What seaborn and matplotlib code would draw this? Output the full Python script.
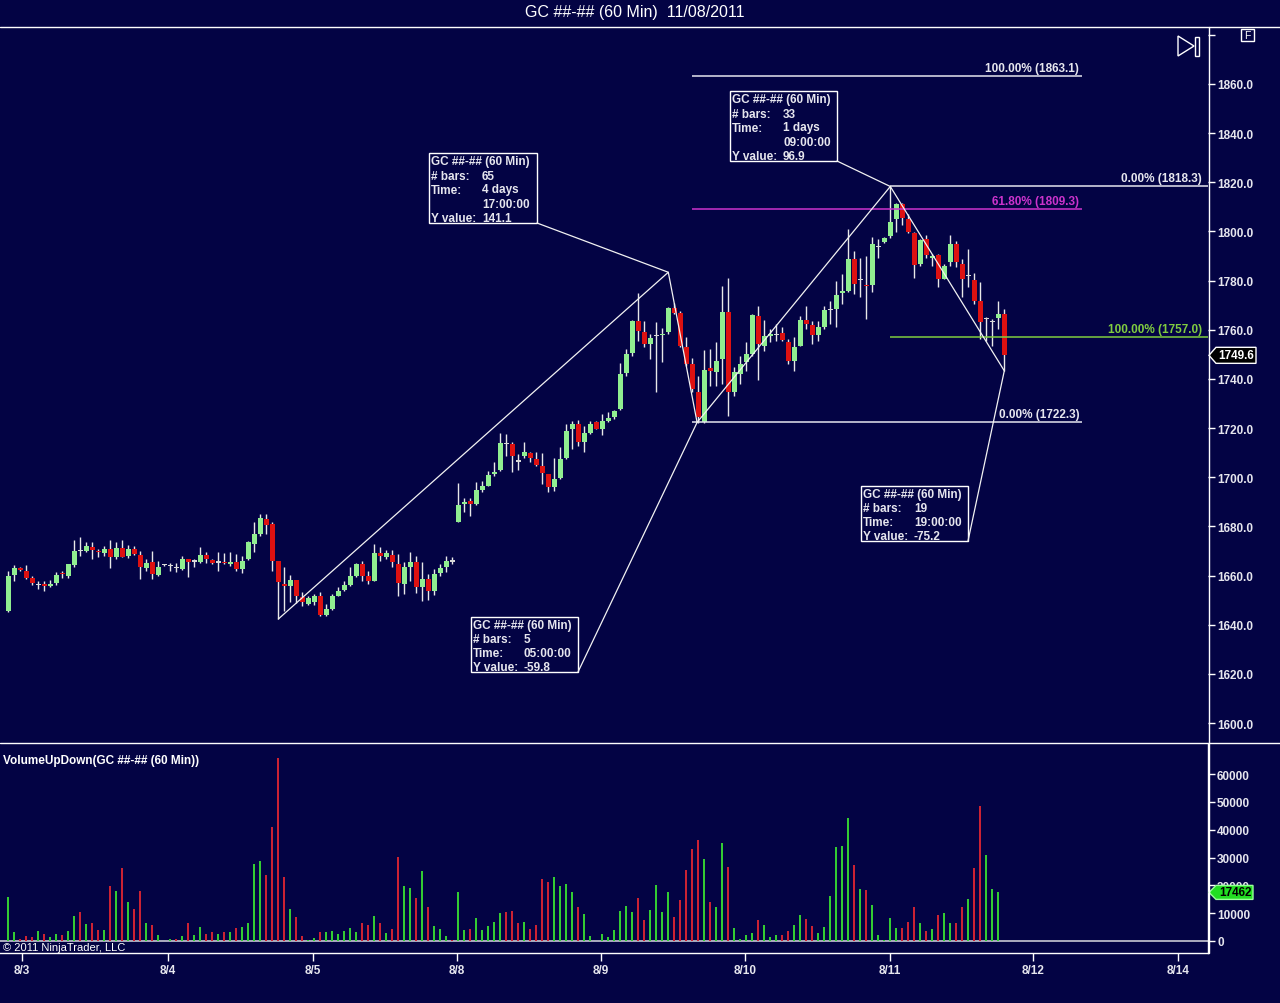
import matplotlib
matplotlib.use("Agg")
import matplotlib.pyplot as plt
from matplotlib.patches import Rectangle, Polygon
import numpy as np
import pandas as pd
import seaborn as sns

# ---- hourly GC bars ----
opens = [
    1645.7, 1660.2, 1663.0, 1662.0, 1659.0, 1656.4, 1656.5, 1655.6, 1656.9, 1661.0,
    1659.9, 1664.4, 1670.3, 1670.1, 1671.8, 1670.1, 1669.1, 1670.8, 1667.4, 1671.4,
    1667.8, 1670.8, 1668.5, 1663.0, 1665.6, 1660.2, 1664.3, 1664.0, 1663.6, 1662.6,
    1666.7, 1665.9, 1665.6, 1668.3, 1666.3, 1665.5, 1665.6, 1664.9, 1665.6, 1662.6,
    1666.7, 1672.8, 1676.9, 1683.2, 1680.9, 1666.0, 1656.5, 1655.6, 1658.1, 1651.1,
    1648.4, 1649.4, 1651.8, 1644.0, 1646.4, 1651.8, 1654.3, 1656.2, 1659.7, 1664.7,
    1660.0, 1657.9, 1669.2, 1667.4, 1668.4, 1664.7, 1656.6, 1663.4, 1665.4, 1655.2,
    1658.6, 1653.9, 1661.0, 1663.4, 1666.1, 1681.9, 1689.1, 1690.4, 1689.1, 1694.9,
    1696.5, 1701.3, 1703.0, 1714.0, 1713.5, 1706.8, 1708.5, 1709.8, 1707.4, 1704.4,
    1701.3, 1695.9, 1699.5, 1707.8, 1719.6, 1721.6, 1714.2, 1718.2, 1722.3, 1719.8,
    1723.0, 1724.7, 1727.7, 1742.6, 1750.5, 1763.6, 1759.2, 1754.2, 1757.5, 1757.8,
    1758.9, 1768.7, 1766.8, 1752.8, 1746.0, 1734.5, 1722.3, 1744.3, 1743.0, 1748.1,
    1767.4, 1734.8, 1742.0, 1747.0, 1750.1, 1765.7, 1753.3, 1757.3, 1758.0, 1758.7,
    1755.2, 1747.4, 1753.5, 1764.1, 1761.9, 1757.9, 1761.0, 1768.3, 1768.6, 1774.8,
    1775.9, 1788.8, 1780.4, 1778.2, 1778.2, 1794.0, 1795.8, 1798.0, 1805.0, 1811.1,
    1805.0, 1799.3, 1786.7, 1796.9, 1789.0, 1790.4, 1780.6, 1787.4, 1794.9, 1786.7,
    1782.0, 1780.3, 1771.8, 1764.6, 1763.5, 1764.6, 1766.4]
highs = [
    1661.9, 1664.2, 1663.4, 1664.2, 1659.9, 1657.9, 1657.9, 1658.1, 1661.5, 1662.0,
    1664.7, 1674.4, 1675.5, 1673.5, 1673.7, 1671.0, 1672.1, 1674.4, 1673.7, 1674.4,
    1672.4, 1672.1, 1670.1, 1666.7, 1670.1, 1666.0, 1664.8, 1665.3, 1665.0, 1668.0,
    1666.7, 1666.7, 1671.7, 1669.4, 1666.7, 1669.7, 1669.0, 1669.4, 1668.7, 1668.0,
    1674.1, 1681.6, 1685.0, 1685.0, 1681.9, 1666.0, 1663.3, 1660.2, 1658.1, 1653.4,
    1651.8, 1652.5, 1653.4, 1648.4, 1652.5, 1655.2, 1657.9, 1663.4, 1665.0, 1666.1,
    1662.0, 1672.8, 1671.5, 1670.4, 1670.4, 1668.8, 1665.4, 1669.5, 1668.1, 1665.4,
    1660.6, 1662.7, 1664.7, 1668.1, 1667.4, 1697.7, 1691.4, 1691.4, 1698.1, 1698.6,
    1702.6, 1706.0, 1717.9, 1717.5, 1714.4, 1709.4, 1714.4, 1710.1, 1710.4, 1709.8,
    1701.3, 1708.0, 1712.1, 1721.6, 1723.0, 1723.4, 1720.9, 1723.0, 1723.0, 1725.7,
    1726.4, 1727.4, 1746.4, 1752.1, 1764.1, 1774.9, 1763.6, 1758.2, 1763.0, 1760.9,
    1769.1, 1771.0, 1767.7, 1756.9, 1748.7, 1741.3, 1751.9, 1752.2, 1754.9, 1778.0,
    1781.0, 1744.7, 1749.5, 1754.9, 1766.4, 1769.8, 1764.1, 1760.3, 1762.4, 1761.0,
    1756.3, 1756.9, 1765.5, 1769.8, 1763.7, 1763.7, 1769.5, 1771.8, 1780.0, 1782.6,
    1801.0, 1792.1, 1789.1, 1790.1, 1797.6, 1796.9, 1797.6, 1818.6, 1811.5, 1811.5,
    1807.1, 1799.6, 1796.9, 1798.5, 1790.8, 1790.8, 1786.7, 1798.5, 1796.2, 1788.8,
    1792.9, 1783.3, 1779.3, 1765.0, 1764.3, 1771.8, 1768.4]
lows = [
    1645.0, 1657.9, 1661.9, 1658.6, 1656.1, 1654.5, 1653.8, 1655.2, 1656.1, 1659.2,
    1659.2, 1663.3, 1668.0, 1669.4, 1666.7, 1667.4, 1668.0, 1662.9, 1666.7, 1667.4,
    1667.0, 1668.3, 1658.6, 1661.9, 1658.6, 1659.9, 1664.0, 1662.0, 1661.3, 1662.4,
    1659.6, 1663.3, 1665.3, 1665.3, 1664.7, 1662.0, 1664.5, 1664.0, 1662.0, 1661.0,
    1666.4, 1669.4, 1676.2, 1676.9, 1661.9, 1642.3, 1645.7, 1649.1, 1649.0, 1647.8,
    1648.0, 1648.0, 1643.7, 1643.7, 1646.1, 1651.6, 1653.9, 1655.9, 1659.3, 1657.9,
    1656.6, 1657.7, 1666.1, 1666.7, 1663.4, 1651.6, 1652.5, 1657.9, 1652.9, 1649.8,
    1650.2, 1652.1, 1659.7, 1661.3, 1664.7, 1681.7, 1685.7, 1684.3, 1688.7, 1693.8,
    1696.3, 1700.3, 1702.6, 1708.7, 1702.0, 1703.0, 1708.0, 1706.0, 1704.4, 1697.2,
    1694.1, 1694.5, 1699.2, 1707.4, 1711.4, 1712.8, 1710.4, 1717.5, 1719.6, 1717.1,
    1722.6, 1723.6, 1727.3, 1741.0, 1749.4, 1755.5, 1752.8, 1748.1, 1734.5, 1746.7,
    1758.2, 1766.4, 1752.8, 1745.4, 1734.5, 1722.1, 1722.1, 1737.3, 1737.3, 1738.0,
    1725.1, 1733.2, 1737.9, 1743.4, 1749.5, 1739.7, 1751.5, 1754.9, 1755.6, 1755.6,
    1746.1, 1743.4, 1753.3, 1760.3, 1754.2, 1755.6, 1760.3, 1762.4, 1761.0, 1770.4,
    1775.5, 1774.5, 1773.2, 1764.3, 1775.5, 1789.1, 1795.5, 1797.2, 1799.9, 1802.6,
    1799.3, 1780.9, 1785.8, 1789.0, 1785.8, 1777.2, 1780.6, 1785.8, 1785.4, 1773.2,
    1777.2, 1770.4, 1756.2, 1755.5, 1753.5, 1760.3, 1743.3]
closes = [
    1659.9, 1663.0, 1662.1, 1659.2, 1656.9, 1656.6, 1655.6, 1656.5, 1660.2, 1660.5,
    1664.7, 1670.1, 1670.0, 1672.1, 1670.5, 1669.4, 1670.8, 1667.4, 1671.4, 1667.6,
    1670.8, 1668.7, 1663.3, 1665.3, 1660.6, 1663.3, 1664.4, 1664.1, 1663.4, 1666.7,
    1665.6, 1666.0, 1668.3, 1666.7, 1665.3, 1665.6, 1665.0, 1665.7, 1662.6, 1666.0,
    1673.5, 1676.9, 1683.6, 1680.5, 1666.0, 1657.2, 1655.8, 1658.1, 1651.8, 1649.1,
    1650.9, 1651.8, 1644.0, 1646.4, 1651.8, 1653.9, 1656.1, 1660.0, 1664.7, 1660.0,
    1657.9, 1669.2, 1667.8, 1669.1, 1665.4, 1657.0, 1663.4, 1665.4, 1655.2, 1658.6,
    1653.9, 1660.6, 1663.0, 1666.1, 1665.9, 1688.7, 1690.0, 1689.1, 1694.9, 1696.3,
    1700.9, 1702.2, 1713.9, 1713.8, 1708.5, 1706.6, 1710.1, 1707.8, 1705.1, 1701.7,
    1695.9, 1699.2, 1707.6, 1718.9, 1721.6, 1714.2, 1718.2, 1721.6, 1719.8, 1723.0,
    1724.3, 1727.0, 1742.2, 1750.1, 1763.6, 1759.6, 1754.2, 1756.5, 1757.7, 1758.4,
    1768.7, 1767.0, 1753.5, 1746.0, 1735.9, 1724.5, 1743.6, 1743.4, 1747.4, 1767.1,
    1734.8, 1743.0, 1746.1, 1750.1, 1766.0, 1754.2, 1757.3, 1758.3, 1758.2, 1756.0,
    1747.4, 1752.9, 1764.1, 1762.4, 1757.9, 1761.0, 1768.2, 1768.5, 1774.2, 1775.6,
    1788.8, 1778.6, 1780.6, 1777.7, 1794.9, 1794.1, 1797.2, 1803.9, 1811.1, 1805.3,
    1799.9, 1786.3, 1796.6, 1790.4, 1790.1, 1780.6, 1786.0, 1794.9, 1787.4, 1780.6,
    1782.2, 1771.8, 1763.3, 1764.8, 1763.9, 1766.4, 1749.6]
volumes = [
    15900, 3350, 720, 1680, 1300, 3600, 2500, 1560, 2500, 2150,
    3700, 9100, 10500, 6100, 6500, 3950, 4100, 19900, 18100, 26200,
    14100, 11500, 18100, 6500, 5750, 2150, 0, 700, 700, 1700,
    6500, 2150, 5150, 2500, 3100, 2500, 3350, 3350, 4700, 5150,
    6350, 27700, 28750, 23700, 40850, 65650, 22900, 11500, 8750, 1700,
    500, 1100, 3350, 3350, 3600, 2500, 3700, 4700, 3350, 6350,
    5750, 9100, 6350, 2900, 4300, 30300, 19900, 19050, 15450, 25300,
    12350, 5500, 4300, 1900, 360, 17500, 4100, 4300, 8300, 4100,
    5500, 6950, 10000, 10300, 10650, 6470, 6700, 4300, 5750, 22300,
    21100, 23000, 19770, 20500, 17500, 12100, 9700, 1700, 120, 2500,
    1300, 3950, 10800, 12600, 10400, 15300, 7550, 11100, 20100, 10400,
    17500, 8750, 14700, 25500, 33100, 36300, 29500, 13900, 12300, 35100,
    26700, 4700, 700, 2150, 2900, 7550, 5750, 1300, 2150, 2150,
    3600, 5750, 9450, 7900, 5400, 3000, 5000, 16300, 33900, 34300,
    44300, 27300, 18700, 18300, 12900, 2150, 240, 8270, 4550, 4700,
    6800, 12100, 6350, 3700, 4300, 9450, 10060, 6350, 6470, 12100,
    15100, 26200, 48400, 30900, 18700, 17462]

date_labels = ["8/3", "8/4", "8/5", "8/8", "8/9", "8/10", "8/11", "8/12", "8/14"]
date_bars = [2.3, 26.6, 50.8, 74.8, 98.8, 122.8, 147.0, 170.8, 194.9]

# zigzag measure drawing (bar index, price)
measure_bars = [45, 110, 114.8, 147, 166]
measure_prices = [1642.3, 1783.4, 1722.3, 1818.3, 1743.3]
measure_boxes = [
    [("GC ##-## (60 Min)", ""), ("# bars:", "65"), ("Time:", "4 days"), ("", "17:00:00"), ("Y value:", "141.1")],
    [("GC ##-## (60 Min)", ""), ("# bars:", "5"), ("Time:", "05:00:00"), ("Y value:", "-59.8")],
    [("GC ##-## (60 Min)", ""), ("# bars:", "33"), ("Time:", "1 days"), ("", "09:00:00"), ("Y value:", "96.9")],
    [("GC ##-## (60 Min)", ""), ("# bars:", "19"), ("Time:", "19:00:00"), ("Y value:", "-75.2")],
]

# fibonacci tools
fib1_levels = [0.0, 61.8, 100.0]
fib1_prices = [1722.3, 1809.3, 1863.1]
fib2_levels = [0.0, 100.0]
fib2_prices = [1818.3, 1757.0]

# ---- style ----
BG = "#030344"
FG = "#e6e6ee"
WICK = "#e8e8e8"
C_UP, C_DN, C_DOJI = "#90ee90", "#dd1111", "#d8d8d8"
V_UP, V_DN = "#33cc33", "#cc2233"
MAGENTA = "#cc33cc"
LIME = "#80cc40"

sns.set_style("dark", {"axes.facecolor": BG, "figure.facecolor": BG})
plt.rcParams["font.family"] = ["Liberation Sans", "DejaVu Sans"]

W, H = 1280, 1004
fig = plt.figure(figsize=(W / 100, H / 100), dpi=100, facecolor=BG)
ax = fig.add_axes([0, 1 - 742 / H, 1208 / W, (742 - 28) / H])
axv = fig.add_axes([0, 1 - 954 / H, 1208 / W, (954 - 745) / H])

o = np.array(opens); h = np.array(highs); l = np.array(lows); c = np.array(closes)
idx = np.arange(len(o))
xlim = (-8.3 / 6, (1208 - 8.3) / 6)

# ---- candles ----
diff = c - o
body_col = np.where(diff >= 0.5, C_UP, np.where(diff <= -0.5, C_DN, C_DOJI))
body_h = np.maximum(np.abs(diff), 0.45)
body_b = np.where(np.abs(diff) < 0.45, np.minimum(o, c) - 0.2, np.minimum(o, c))
ax.vlines(idx, l, h, color=WICK, lw=1.0, zorder=2)
ax.bar(idx, body_h, bottom=body_b, width=0.78, color=body_col, lw=0, zorder=3)

ax.set_xlim(*xlim)
ax.set_ylim(1592.68, 1883.19)
ax.set_facecolor(BG)
ax.grid(False)

# fib lines + labels
fib1_cols = [FG, MAGENTA, FG]
ax.hlines(fib1_prices, 114, 179, colors=fib1_cols, lw=1.1, zorder=4)
for lv, p, col in zip(fib1_levels, fib1_prices, fib1_cols):
    ax.annotate(f"{lv:.2f}% ({p:.1f})", (179, p), xytext=(-3, 2), textcoords="offset pixels",
                ha="right", va="bottom", color=col, fontsize=8.5, fontweight="bold", zorder=5)
fib2_cols = [FG, LIME]
ax.hlines(fib2_prices, 147, xlim[1], colors=fib2_cols, lw=1.1, zorder=4)
for lv, p, col in zip(fib2_levels, fib2_prices, fib2_cols):
    ax.annotate(f"{lv:.2f}% ({p:.1f})", (xlim[1], p), xytext=(-6, 2), textcoords="offset pixels",
                ha="right", va="bottom", color=col, fontsize=8.5, fontweight="bold", zorder=5)

# measure zigzag
ax.plot(measure_bars, measure_prices, color="#f2f2f2", lw=0.9, zorder=4)

ax.yaxis.tick_right()
yt = np.arange(1600, 1881, 20)
ax.set_yticks(yt)
ax.set_yticklabels([f"{v:.1f}" if v < 1880 else "" for v in yt], fontweight="bold")
ax.tick_params(axis="y", which="both", left=False, right=True, labelleft=False, labelright=True,
               length=5, width=1, color="white", labelcolor=FG, labelsize=8.5, pad=1.5, direction="out")
ax.set_xticks([])
for s in ax.spines.values():
    s.set_visible(False)

# ---- volume (seaborn) ----
nv = len(volumes)
vol_df = pd.DataFrame({
    "bar": np.arange(nv),
    "volume": volumes,
    "dir": np.where(c[:nv] >= o[:nv], "up", "down"),
})
sns.barplot(data=vol_df, x="bar", y="volume", hue="dir", palette={"up": V_UP, "down": V_DN},
            native_scale=True, dodge=False, width=0.38, linewidth=0, saturation=1,
            errorbar=None, legend=False, ax=axv, zorder=3)
axv.axhline(0, color="#c8c8d4", lw=1.2, zorder=2)
axv.set_xlim(*xlim)
axv.set_ylim(-4312, 70786)
axv.set_facecolor(BG)
axv.grid(False)
axv.set_xlabel("")
axv.set_ylabel("")
axv.yaxis.tick_right()
vt = np.arange(0, 60001, 10000)
axv.set_yticks(vt)
axv.set_yticklabels([f"{v}" for v in vt], fontweight="bold")
axv.tick_params(axis="y", which="both", left=False, right=True, labelleft=False, labelright=True,
                length=5, width=1, color="white", labelcolor=FG, labelsize=8.5, pad=1.5, direction="out")
axv.set_xticks(date_bars)
axv.set_xticklabels(date_labels, fontweight="bold")
axv.tick_params(axis="x", bottom=True, length=6, width=1, color="white", labelcolor=FG,
                labelsize=8.5, pad=2, direction="out")
for k, s in axv.spines.items():
    s.set_visible(k in ("bottom", "right"))
    s.set_color("white")
    s.set_linewidth(1)

# ---- overlay in pixel space for chart chrome ----
ov = fig.add_axes([0, 0, 1, 1], zorder=10)
ov.set_xlim(0, W)
ov.set_ylim(H, 0)
ov.axis("off")
ov.patch.set_alpha(0)


def to_px(a, x, y):
    dx, dy = a.transData.transform((x, y))
    return dx, H - dy


ov.text(635, 13, "GC ##-## (60 Min)  11/08/2011", ha="center", va="center", color="white", fontsize=11.5)
ov.plot([0, W], [27.5, 27.5], color="white", lw=1)
ov.plot([0, W], [743.5, 743.5], color="white", lw=1)
ov.plot([1208.5, 1208.5], [28, 954], color="white", lw=1)

# measure info boxes
box_rects = [(429, 154, 537, 224), (471, 618, 578, 673), (730, 92, 837, 162), (861, 487, 968, 542)]
for k, ((x0, y0, x1, y1), lines) in enumerate(zip(box_rects, measure_boxes)):
    tx, ty = to_px(ax, measure_bars[k + 1], measure_prices[k + 1])
    ov.plot([x1, tx], [y1, ty], color="#f2f2f2", lw=0.9)
    ov.add_patch(Rectangle((x0, y0), x1 - x0, y1 - y0, fc=BG, ec="white", lw=1))
    for j, (lab, val) in enumerate(lines):
        yy = y0 + 8.5 + 14 * j
        ov.text(x0 + 2, yy, lab, ha="left", va="center", color=FG, fontsize=8.5, fontweight="bold")
        ov.text(x0 + 53, yy, val, ha="left", va="center", color=FG, fontsize=8.5, fontweight="bold")

ov.text(3, 761, "VolumeUpDown(GC ##-## (60 Min))", ha="left", va="center", color="white",
        fontsize=8.5, fontweight="bold")
ov.text(3, 948, "\u00a9 2011 NinjaTrader, LLC", ha="left", va="center", color="white", fontsize=8)

# last-value tags
_, py = to_px(ax, 0, closes[-1])
ov.add_patch(Polygon([(1209, py), (1216, py - 8), (1256, py - 8), (1256, py + 8), (1216, py + 8)],
                     closed=True, fc="black", ec="white", lw=1))
ov.text(1236.5, py, f"{closes[-1]:.1f}", ha="center", va="center", color="white", fontsize=8.5,
        fontweight="bold")
_, vy = to_px(axv, 0, volumes[-1])
ov.add_patch(Polygon([(1209, vy), (1216, vy - 7), (1253, vy - 7), (1253, vy + 7), (1216, vy + 7)],
                     closed=True, fc="#22dd22", ec="#99ff99", lw=1))
ov.text(1235, vy, f"{volumes[-1]}", ha="center", va="center", color="black", fontsize=8.5,
        fontweight="bold")

# toolbar glyphs
ov.add_patch(Polygon([(1178, 37), (1178, 57), (1194, 47)], closed=True, fill=False, ec="white", lw=1))
ov.add_patch(Rectangle((1195, 38), 4, 19, fill=False, ec="white", lw=1))
ov.add_patch(Rectangle((1241, 30), 13, 12, fill=False, ec="white", lw=1))
ov.text(1247.5, 36, "F", ha="center", va="center", color="white", fontsize=7.5)

fig.savefig("out.png", dpi=100, facecolor=BG)
